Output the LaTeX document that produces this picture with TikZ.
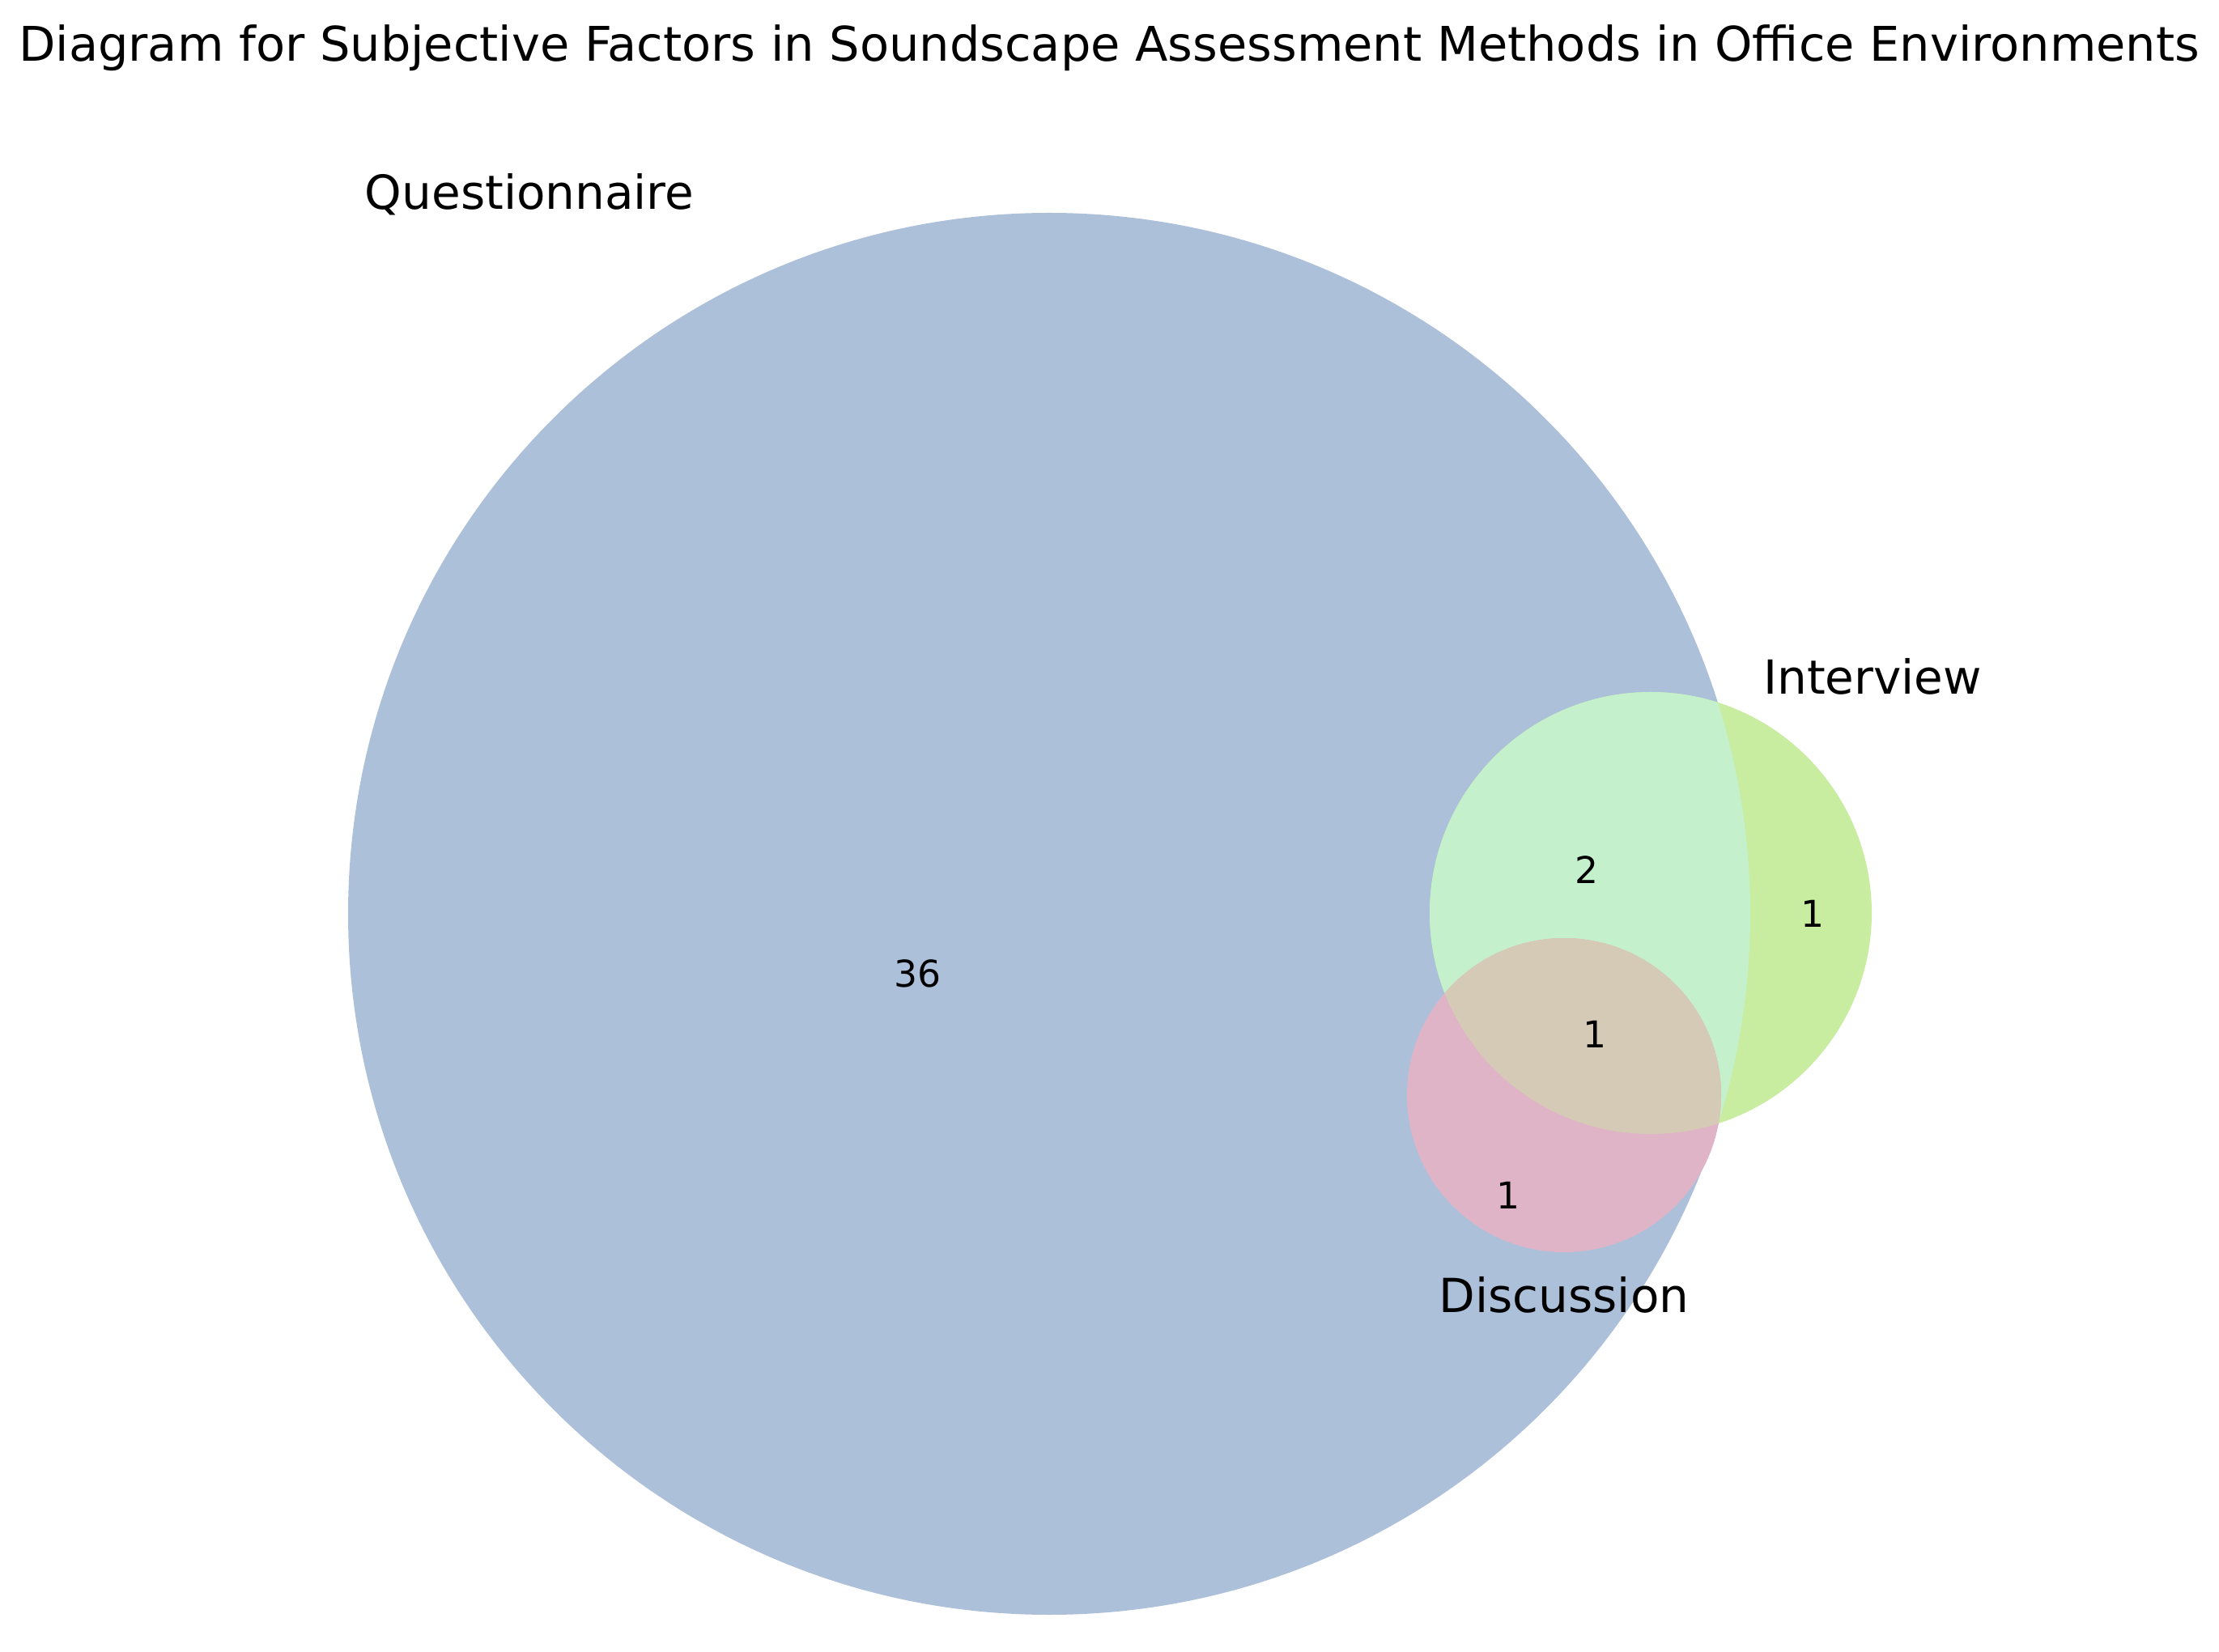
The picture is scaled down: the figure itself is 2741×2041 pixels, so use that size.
\documentclass[tikz,border=0pt]{standalone}
\usepackage{fontspec}
\setmainfont{DejaVu Sans}
\definecolor{qblue}{HTML}{ADC0DA}
\definecolor{imint}{HTML}{C5F0CC}
\definecolor{igreen}{HTML}{C8ECA0}
\definecolor{dpink}{HTML}{E0B4C7}
\definecolor{dtan}{HTML}{D5CAB5}
\tikzset{
  setlabel/.style={inner sep=0pt, font=\fontsize{14.5}{17}\selectfont},
  count/.style={inner sep=0pt, font=\fontsize{11.4}{13}\selectfont},
  titletext/.style={inner sep=0pt, font=\fontsize{14.75}{17}\selectfont}
}
\begin{document}
\begin{tikzpicture}[x=0.25pt,y=-0.25pt]
\useasboundingbox (0,0) rectangle (2741,2041);
\coordinate (qc) at (1296,1129);
\coordinate (ic) at (2039,1128);
\coordinate (dc) at (1932,1353);
\def\qr{866}
\def\ir{273}
\def\dr{194}
% Questionnaire
\fill[qblue] (qc) circle [radius=\qr];
% Interview
\fill[igreen] (ic) circle [radius=\ir];
\begin{scope}
  \clip (qc) circle [radius=\qr];
  \fill[imint] (ic) circle [radius=\ir];
\end{scope}
% Discussion
\fill[dpink] (dc) circle [radius=\dr];
\begin{scope}
  \clip (ic) circle [radius=\ir];
  \fill[dtan] (dc) circle [radius=\dr];
\end{scope}
% labels
\node[titletext] (title) at (1370,59) {Diagram for Subjective Factors in Soundscape Assessment Methods in Office Environments};
\node[setlabel] (lq) at (654,240) {Questionnaire};
\node[setlabel] (li) at (2313,836) {Interview};
\node[setlabel] (ld) at (1932,1600) {Discussion};
\node[count] (n100) at (1133,1203) {36};
\node[count] (n110) at (1960,1075) {2};
\node[count] (n010) at (2239,1129) {1};
\node[count] (n111) at (1970,1278) {1};
\node[count] (n101) at (1863,1477) {1};
\end{tikzpicture}
\end{document}
